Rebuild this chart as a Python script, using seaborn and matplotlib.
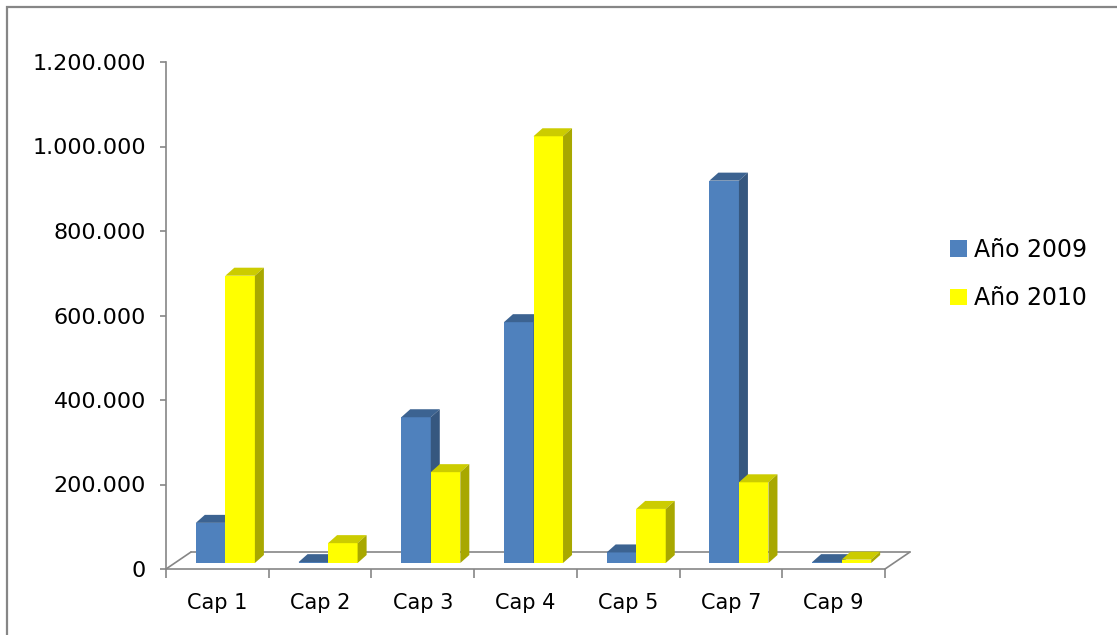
import matplotlib
matplotlib.use('Agg')
import matplotlib.pyplot as plt
from matplotlib.patches import Polygon, Rectangle
from matplotlib.lines import Line2D
from matplotlib.ticker import FuncFormatter, FixedLocator
import pandas as pd
import seaborn as sns

# data
categories = ['Cap 1', 'Cap 2', 'Cap 3', 'Cap 4', 'Cap 5', 'Cap 7', 'Cap 9']
values_2009 = [95000, 2000, 345000, 570000, 25000, 905000, 2000]
values_2010 = [680000, 47000, 215000, 1010000, 128000, 191000, 8000]
series = ['Año 2009', 'Año 2010']
y_ticks = [0, 200000, 400000, 600000, 800000, 1000000, 1200000]

front_colors = ['#4F81BD', '#FFFF00']
top_colors = ['#3C6391', '#CCCC00']
side_colors = ['#36577F', '#A8A800']
grey = '#868686'

df = pd.DataFrame({
    'cap': categories * 2,
    'value': values_2009 + values_2010,
    'serie': [series[0]] * len(categories) + [series[1]] * len(categories),
})

sns.set_style('white')
plt.rcParams['font.family'] = ['DejaVu Sans']
plt.rcParams['text.color'] = 'black'
FS = 15

W, H = 1117, 635
fig = plt.figure(figsize=(W / 100, H / 100), dpi=100)


def px_box(l, t, r, b):
    return [l / W, 1 - b / H, (r - l) / W, (b - t) / H]


# axis frame (front plane of the floor)
ax = fig.add_axes(px_box(166, 62, 885, 569))
# bars sit a little behind the front plane
ax2 = fig.add_axes(px_box(174, 56, 893, 563))

n = len(categories)
xlim = (-0.5, n - 0.5)
ylim = (0, 1200000)
px_x = (885 - 166) / n          # pixels per category
px_y = (569 - 62) / ylim[1]     # pixels per unit value

sns.barplot(data=df, x='cap', y='value', hue='serie', palette=front_colors,
            saturation=1, width=0.575, linewidth=0, ax=ax2)
ax2.set_xlim(*xlim)
ax2.set_ylim(*ylim)
ax2.axis('off')
ax2.patch.set_visible(False)

# depth faces of the columns
ddx = 9 / px_x
ddy = 8 / px_y
for i, cont in enumerate(ax2.containers):
    for bar in cont:
        bar.set_zorder(2 + i)
        x0 = bar.get_x()
        w = bar.get_width()
        h = bar.get_height()
        top = Polygon([(x0, h), (x0 + w, h), (x0 + w + ddx, h + ddy), (x0 + ddx, h + ddy)],
                      closed=True, facecolor=top_colors[i], edgecolor='none', zorder=2 + i)
        side = Polygon([(x0 + w, 0), (x0 + w, h), (x0 + w + ddx, h + ddy), (x0 + w + ddx, ddy)],
                       closed=True, facecolor=side_colors[i], edgecolor='none', zorder=2 + i)
        ax2.add_patch(top)
        ax2.add_patch(side)

handles, labels = ax2.get_legend_handles_labels()
ax2.get_legend().remove()
fig.legend(handles, labels, loc='center left', bbox_to_anchor=(950 / W, 1 - 274 / H),
           frameon=False, fontsize=FS + 2, handlelength=0.7, handleheight=0.7,
           handletextpad=0.3, labelspacing=1.05, borderpad=0, borderaxespad=0,
           labelcolor='black')

# axis frame + floor
ax.set_xlim(*xlim)
ax.set_ylim(*ylim)
ax.patch.set_visible(False)
for s in ['top', 'right']:
    ax.spines[s].set_visible(False)
for s in ['left', 'bottom']:
    ax.spines[s].set_color(grey)
    ax.spines[s].set_linewidth(1.2)

fx = 25 / px_x
fy = 17 / px_y
floor = [
    ([xlim[0], xlim[0] + fx], [0, fy]),
    ([xlim[0] + fx, xlim[1] + fx], [fy, fy]),
    ([xlim[1], xlim[1] + fx], [0, fy]),
]
for xs, ys in floor:
    ax.add_line(Line2D(xs, ys, color=grey, lw=1.2, clip_on=False, zorder=1))

ax.yaxis.set_major_locator(FixedLocator(y_ticks))
ax.yaxis.set_major_formatter(FuncFormatter(lambda v, p: f'{v:,.0f}'.replace(',', '.')))
ax.tick_params(axis='y', left=True, length=4.5, width=1.2, color=grey, pad=10,
               labelsize=FS + 1, labelcolor='black')

ax.xaxis.set_major_locator(FixedLocator([k - 0.5 for k in range(n + 1)]))
ax.xaxis.set_minor_locator(FixedLocator(list(range(n))))
ax.set_xticklabels([], minor=False)
ax.set_xticklabels(categories, minor=True)
ax.tick_params(axis='x', which='major', bottom=True, length=6.5, width=1.2, color=grey)
ax.tick_params(axis='x', which='minor', bottom=True, length=0, pad=17,
               labelsize=FS, labelcolor='black')
ax.set_xlabel('')
ax.set_ylabel('')

# chart border
fig.add_artist(Rectangle((7 / W, -0.1), 1.2, 1.1 - 7 / H, transform=fig.transFigure,
                         fill=False, edgecolor=grey, lw=1.6))

fig.savefig('out.png', dpi=100)
